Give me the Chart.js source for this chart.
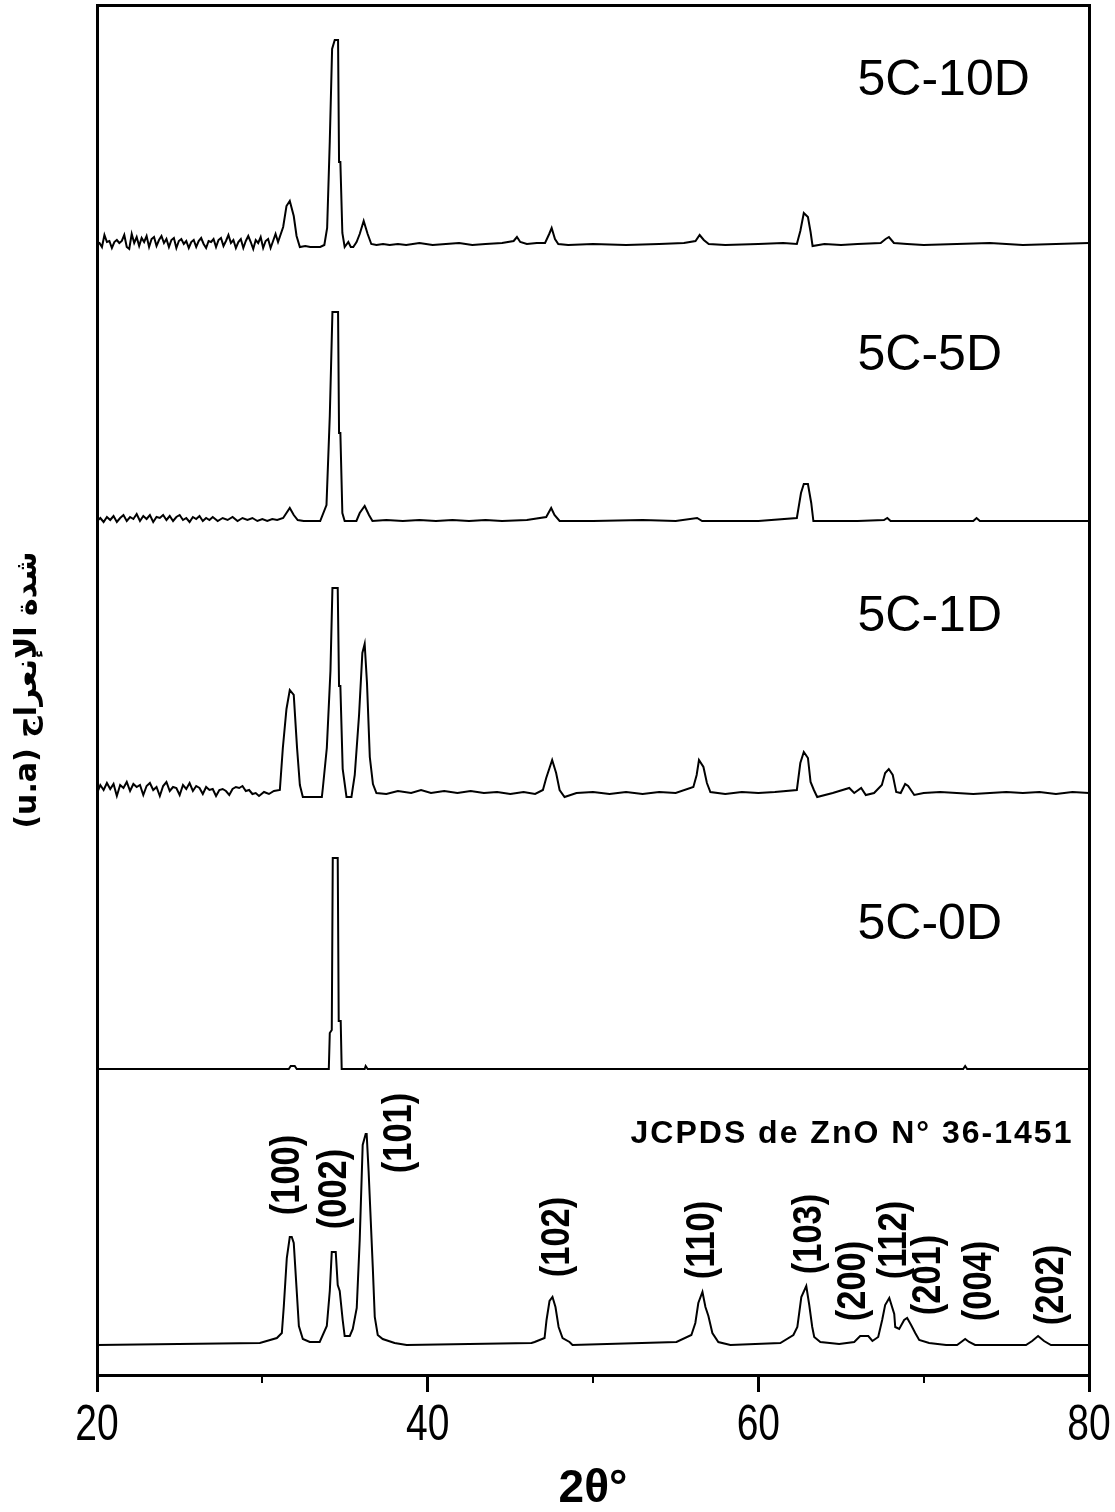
<!DOCTYPE html>
<html>
<head>
<meta charset="utf-8">
<script src="https://cdn.jsdelivr.net/npm/chart.js@4/dist/chart.umd.min.js"></script>
<style>
  html, body { margin: 0; padding: 0; background: #fff; }
  #wrap { width: 1115px; height: 1512px; position: relative; }
</style>
</head>
<body>
<div id="wrap"><canvas id="xrdChart"></canvas></div>
<script>
// 2-theta range and tick labels
const X_MIN = 20;
const X_MAX = 80;
const X_TICKS = [20, 40, 60, 80];
const X_MINOR = [30, 50, 70];

// Series names, bottom to top, and baseline offset of each trace (u.a)
const SERIES_NAMES = ["JCPDS", "5C-0D", "5C-1D", "5C-5D", "5C-10D"];
const SERIES_OFFSETS = [3.0, 30.6, 58.2, 85.4, 113.1];

// [2theta, intensity above own baseline]
const jcpds = [
  [20.0, 0], [29.85, 0.2], [30.88, 0.7], [31.18, 1.2], [31.3, 3.9], [31.48, 8.7], [31.66, 10.8],
  [31.78, 10.8], [31.9, 10.2], [32.08, 5.4], [32.21, 1.9], [32.45, 0.6], [32.87, 0.3], [33.47, 0.3],
  [33.9, 1.9], [34.08, 5.4], [34.2, 9.3], [34.44, 9.3], [34.56, 6.0], [34.68, 5.4], [34.86, 2.5],
  [34.98, 0.9], [35.29, 0.9], [35.47, 1.6], [35.71, 3.7], [35.89, 10.5], [36.07, 20.0], [36.25, 21.1],
  [36.31, 21.1], [36.43, 17.3], [36.68, 7.8], [36.8, 2.8], [36.98, 1.0], [37.28, 0.6], [38.0, 0.2],
  [38.73, 0], [46.28, 0.2], [46.47, 0.3], [47.07, 0.7], [47.19, 2.5], [47.37, 4.4], [47.55, 4.8],
  [47.73, 3.8], [47.92, 1.8], [48.16, 0.7], [48.58, 0.3], [48.76, 0], [55.05, 0.3], [55.95, 1.0],
  [56.19, 2.2], [56.37, 4.2], [56.62, 5.3], [56.8, 3.8], [56.98, 2.9], [57.22, 1.2], [57.58, 0.3],
  [58.31, 0], [61.33, 0.2], [62.12, 1.0], [62.36, 1.8], [62.6, 4.8], [62.9, 5.9], [63.08, 4.0],
  [63.26, 1.8], [63.38, 0.8], [63.75, 0.3], [64.89, 0.1], [65.8, 0.3], [66.16, 0.9], [66.65, 0.9],
  [66.9, 0.4], [67.25, 0.8], [67.49, 2.5], [67.67, 4.0], [67.92, 4.7], [68.22, 3.1], [68.28, 1.8],
  [68.52, 1.6], [68.82, 2.5], [69.0, 2.7], [69.24, 2.0], [69.49, 1.2], [69.73, 0.5], [70.33, 0.2],
  [71.36, 0], [72.02, 0], [72.27, 0.3], [72.51, 0.6], [72.75, 0.3], [73.11, 0], [76.19, 0],
  [76.56, 0.4], [76.92, 0.9], [77.28, 0.4], [77.7, 0], [80.0, 0]
];

const s0D = [
  [20.0, 0], [31.6, 0], [31.72, 0.3], [31.96, 0.3], [32.08, 0], [34.02, 0], [34.08, 3.6],
  [34.2, 3.9], [34.26, 21.1], [34.56, 21.1], [34.62, 4.8], [34.74, 4.8], [34.8, 0], [36.19, 0],
  [36.25, 0.3], [36.37, 0], [72.39, 0], [72.51, 0.3], [72.63, 0], [80.0, 0]
];

const s1D = [
  [20.0, 0.0], [20.2, 0.8], [20.4, 0.3], [20.6, 1.0], [20.8, 0.4], [21.0, 0.9], [21.2, -0.3],
  [21.4, 0.8], [21.6, 0.5], [21.8, 1.1], [22.0, 0.2], [22.2, 0.9], [22.4, 0.6], [22.6, 0.8],
  [22.8, -0.2], [23.0, 0.7], [23.2, 1.0], [23.4, 0.3], [23.6, 0.6], [23.8, -0.3], [24.0, 0.7],
  [24.2, 1.1], [24.4, 0.2], [24.6, 0.6], [24.8, 0.5], [25.0, -0.2], [25.2, 0.8], [25.4, 0.4],
  [25.6, 1.0], [25.8, 0.2], [26.0, 0.7], [26.2, 0.5], [26.4, -0.1], [26.6, 0.6], [26.8, 0.3],
  [27.0, 0.4], [27.2, -0.3], [27.4, 0.3], [27.6, 0.4], [27.8, 0.2], [28.0, -0.2], [28.2, 0.4],
  [28.4, 0.6], [28.6, 0.5], [28.8, 0.7], [29.0, 0.2], [29.2, 0.3], [29.4, -0.1], [29.6, 0.0],
  [29.8, -0.3], [30.1, 0.1], [30.4, -0.1], [30.7, 0.2], [31.06, 0.3], [31.24, 4.5], [31.46, 8.4],
  [31.66, 10.3], [31.9, 9.8], [32.1, 4.5],
  [32.27, 0.8], [32.45, -0.4], [33.0, -0.4], [33.6, -0.4], [33.66, 0.5], [33.9, 4.5], [34.12, 12.2],
  [34.24, 20.5], [34.56, 20.5], [34.64, 10.7], [34.72, 10.7], [34.86, 2.4], [35.09, -0.4],
  [35.39, -0.4], [35.59, 1.8], [35.85, 7.8], [36.05, 14.0], [36.19, 14.9], [36.33, 11.0],
  [36.5, 3.6], [36.69, 0.9], [36.9, 0.0], [37.5, -0.1], [38.2, 0.2], [39.0, 0.0], [39.6, 0.3],
  [40.2, 0.0], [41.0, 0.2], [41.8, 0.0], [42.6, 0.2], [43.4, 0.0], [44.2, 0.1], [45.0, -0.1],
  [45.8, 0.1], [46.5, -0.1], [46.97, 0.3], [47.17, 1.5], [47.53, 3.3], [47.77, 2.0], [47.98, 0.3],
  [48.28, -0.4], [49.0, 0.0], [50.0, 0.1], [51.0, -0.1], [52.0, 0.1], [53.0, -0.1], [54.0, 0.1],
  [55.0, 0.0], [56.07, 0.6], [56.27, 1.8], [56.41, 3.3], [56.68, 2.6], [56.89, 1.0], [57.1, 0.1],
  [58.0, -0.1], [59.0, 0.1], [60.0, 0.0], [61.0, 0.1], [62.33, 0.3], [62.54, 3.0], [62.75, 4.1],
  [63.0, 3.5], [63.16, 1.1], [63.36, 0.3], [63.56, -0.4], [64.5, 0.0], [65.5, 0.5], [65.8, 0.0],
  [66.22, 0.5], [66.5, -0.2], [67.0, 0.0], [67.47, 0.8], [67.67, 2.0], [67.89, 2.4], [68.13, 1.8],
  [68.34, 0.1], [68.61, 0.0], [68.88, 0.9], [69.06, 0.7], [69.43, -0.2], [70.0, 0.0], [71.0, 0.1],
  [72.0, 0.0], [73.0, -0.1], [74.0, 0.0], [75.0, 0.1], [76.0, 0.0], [77.0, 0.1], [78.0, -0.1],
  [79.0, 0.1], [80.0, 0.0]
];

const s5D = [
  [20.0, 0.0], [20.2, 0.3], [20.4, -0.1], [20.6, 0.4], [20.8, 0.1], [21.0, 0.5], [21.2, -0.1],
  [21.4, 0.3], [21.6, 0.6], [21.8, 0.0], [22.0, 0.4], [22.2, 0.2], [22.4, 0.7], [22.6, 0.0],
  [22.8, 0.5], [23.0, 0.2], [23.2, 0.6], [23.4, -0.1], [23.6, 0.4], [23.8, 0.3], [24.0, 0.6],
  [24.2, 0.1], [24.4, 0.5], [24.6, 0.0], [24.8, 0.4], [25.0, 0.6], [25.2, 0.1], [25.4, 0.3],
  [25.6, -0.1], [25.8, 0.4], [26.0, 0.2], [26.2, 0.5], [26.4, 0.0], [26.6, 0.3], [26.8, 0.1],
  [27.0, 0.4], [27.3, 0.0], [27.6, 0.3], [27.9, 0.1], [28.2, 0.4], [28.5, 0.0], [28.8, 0.3],
  [29.1, 0.1], [29.4, 0.3], [29.7, 0.0], [30.0, 0.2], [30.3, 0.0], [30.6, 0.2], [30.9, 0.1],
  [31.26, 0.3], [31.66, 1.3], [31.9, 0.6], [32.14, 0.1], [32.5, 0.0], [33.5, 0.0], [33.88, 1.6],
  [34.08, 10.5], [34.24, 20.9], [34.58, 20.9], [34.64, 8.8], [34.72, 8.8], [34.84, 0.8],
  [34.98, 0.0], [35.69, 0.0], [35.89, 0.8], [36.19, 1.5], [36.45, 0.6], [36.66, 0.0], [37.5, 0.1],
  [38.5, 0.0], [39.5, 0.1], [40.5, 0.0], [41.5, 0.1], [42.5, 0.0], [43.5, 0.1], [44.5, 0.0],
  [46.0, 0.1], [47.17, 0.4], [47.47, 1.3], [47.67, 0.6], [47.98, 0.0], [50.0, 0.0], [53.0, 0.1],
  [55.0, 0.0], [56.3, 0.3], [56.6, 0.0], [60.0, 0.0], [62.33, 0.3], [62.58, 2.8], [62.75, 3.7],
  [63.0, 3.7], [63.2, 1.8], [63.33, 0.0], [66.0, 0.0], [67.6, 0.1], [67.8, 0.3], [68.0, 0.0],
  [73.0, 0.0], [73.2, 0.3], [73.4, 0.0], [80.0, 0.0]
];

const s10D = [
  [20.0, 0.0], [20.15, 0.1], [20.3, -0.3], [20.45, 0.9], [20.6, 0.2], [20.75, 0.3], [20.9, -0.4],
  [21.05, 0.2], [21.2, 0.4], [21.35, 0.1], [21.5, 0.3], [21.65, 0.9], [21.8, -0.3], [21.95, -0.5],
  [22.1, 1.0], [22.25, 0.1], [22.4, 0.7], [22.55, -0.2], [22.7, 0.6], [22.85, 0.2], [23.0, 0.8],
  [23.15, -0.3], [23.3, 0.5], [23.45, 0.7], [23.6, -0.2], [23.75, 0.4], [23.9, 0.8], [24.05, 0.1],
  [24.2, 0.5], [24.35, -0.3], [24.5, 0.4], [24.65, 0.6], [24.8, -0.4], [24.95, 0.3], [25.1, 0.5],
  [25.25, 0.0], [25.4, 0.3], [25.55, -0.4], [25.7, 0.2], [25.85, 0.4], [26.0, -0.3], [26.15, 0.3],
  [26.3, 0.6], [26.45, 0.0], [26.6, -0.4], [26.75, 0.3], [26.9, 0.2], [27.05, 0.5], [27.2, -0.3],
  [27.35, 0.4], [27.5, 0.6], [27.65, -0.2], [27.8, 0.3], [27.95, 0.9], [28.1, 0.1], [28.25, 0.4],
  [28.4, -0.4], [28.55, 0.2], [28.7, 0.5], [28.85, -0.4], [29.0, 0.3], [29.15, 0.8], [29.3, 0.2],
  [29.45, -0.5], [29.6, 0.4], [29.75, 0.1], [29.9, 0.7], [30.05, -0.4], [30.2, 0.3], [30.35, 0.5],
  [30.5, -0.4], [30.65, 0.3], [30.8, 1.0], [30.95, 0.2], [31.26, 1.7], [31.46, 3.8], [31.66, 4.3],
  [31.9, 2.8], [32.07, 0.8], [32.27, -0.3], [32.6, -0.2], [32.9, -0.3], [33.2, -0.3], [33.5, -0.3],
  [33.75, -0.1], [33.92, 1.6], [34.08, 10.3], [34.22, 19.5], [34.38, 20.4], [34.58, 20.4],
  [34.64, 8.2], [34.72, 8.2], [34.84, 1.1], [34.98, -0.3], [35.2, 0.2], [35.35, -0.3], [35.5, -0.3],
  [35.7, 0.2], [35.89, 1.0], [36.13, 2.3], [36.37, 1.0], [36.59, 0.0], [36.9, -0.1], [37.3, 0.0],
  [37.7, -0.1], [38.2, 0.0], [38.7, -0.1], [39.5, 0.1], [40.3, -0.1], [41.1, 0.0], [41.9, 0.1],
  [42.7, -0.1], [43.5, 0.0], [44.5, 0.1], [45.2, 0.3], [45.4, 0.7], [45.6, 0.2], [46.0, 0.0],
  [46.6, 0.1], [47.1, 0.1], [47.35, 1.0], [47.5, 1.6], [47.7, 0.5], [47.9, 0.0], [48.5, -0.1],
  [50.0, 0.0], [52.0, -0.1], [54.0, 0.0], [55.5, 0.1], [56.2, 0.3], [56.45, 0.9], [56.7, 0.4],
  [57.0, 0.0], [58.0, -0.1], [60.0, 0.0], [61.5, 0.1], [62.33, 0.0], [62.54, 1.3], [62.75, 3.1],
  [63.0, 2.7], [63.16, 1.2], [63.28, -0.2], [64.0, 0.0], [65.0, -0.1], [66.0, 0.0], [67.4, 0.1],
  [67.7, 0.5], [67.9, 0.7], [68.2, 0.1], [69.0, 0.0], [70.0, -0.1], [72.0, 0.0], [74.0, 0.1],
  [76.0, -0.1], [78.0, 0.0], [80.0, 0.1]
];

const SERIES_DATA = [jcpds, s0D, s1D, s5D, s10D];

// Sample names written inside each panel: [2theta of left edge, u.a of text middle]
const SAMPLE_LABELS = ["5C-10D", "5C-5D", "5C-1D", "5C-0D"];
const SAMPLE_LABEL_AT = [[66.0, 129.4], [66.0, 101.9], [66.0, 75.8], [66.0, 45.0]];

// Miller indices of the reference pattern, with [2theta, u.a] of the label centre
const HKL_LABELS = ["(100)", "(002)", "(101)", "(102)", "(110)", "(103)", "(200)", "(112)", "(201)", "(004)", "(202)"];
const HKL_AT = [
  [31.54, 20.0], [34.38, 18.6], [38.31, 24.2], [47.86, 13.8], [56.68, 13.5], [63.14, 14.1],
  [65.8, 9.4], [68.28, 13.5], [70.33, 10.0], [73.41, 9.4], [77.76, 9.0]
];
const REF_TITLE = "JCPDS de ZnO N° 36-1451";
const REF_TITLE_AT = [52.27, 24.1];

const FONT = "'Liberation Sans', Arial, sans-serif";

const annotations = {
  id: "annotations",
  afterDatasetsDraw(chart) {
    const { ctx } = chart;
    const x = chart.scales.x;
    const y = chart.scales.y;
    ctx.save();
    ctx.fillStyle = "#000";

    ctx.font = "50px " + FONT;
    ctx.textAlign = "left";
    ctx.textBaseline = "middle";
    SAMPLE_LABELS.forEach((label, i) => {
      const [lx, ly] = SAMPLE_LABEL_AT[i];
      ctx.fillText(label, x.getPixelForValue(lx), y.getPixelForValue(ly));
    });

    ctx.font = "bold 32px " + FONT;
    ctx.letterSpacing = "2px";
    ctx.fillText(REF_TITLE, x.getPixelForValue(REF_TITLE_AT[0]), y.getPixelForValue(REF_TITLE_AT[1]));
    ctx.letterSpacing = "0px";

    ctx.font = "bold 40px " + FONT;
    ctx.textAlign = "center";
    HKL_LABELS.forEach((label, i) => {
      const [hx, hy] = HKL_AT[i];
      ctx.save();
      ctx.translate(x.getPixelForValue(hx), y.getPixelForValue(hy));
      ctx.rotate(-Math.PI / 2);
      ctx.scale(0.86, 1);
      ctx.fillText(label, 0, 0);
      ctx.restore();
    });
    ctx.restore();
  },
  afterDraw(chart) {
    const { ctx } = chart;
    const x = chart.scales.x;
    ctx.save();
    // minor ticks on the 2theta axis
    ctx.strokeStyle = "#000";
    ctx.lineWidth = 2;
    X_MINOR.forEach((v) => {
      const px = Math.round(x.getPixelForValue(v));
      ctx.beginPath();
      ctx.moveTo(px, x.top);
      ctx.lineTo(px, x.top + 8);
      ctx.stroke();
    });
    // condensed tick labels, as in the original figure
    ctx.fillStyle = "#000";
    ctx.font = "50px " + FONT;
    ctx.textAlign = "center";
    ctx.textBaseline = "alphabetic";
    x.ticks.forEach((t) => {
      if (!X_TICKS.includes(t.value)) return;
      ctx.save();
      ctx.translate(x.getPixelForValue(t.value), x.top + 65);
      ctx.scale(0.78, 1);
      ctx.fillText(String(t.value), 0, 0);
      ctx.restore();
    });
    ctx.restore();
  },
};

const datasets = SERIES_DATA.map((points, i) => ({
  label: SERIES_NAMES[i],
  data: points.map(([tt, inten]) => ({ x: tt, y: inten + SERIES_OFFSETS[i] })),
  borderColor: "#000",
  borderWidth: 2,
  pointRadius: 0,
  tension: 0,
  fill: false,
}));

const frameAxis = (position, size) => ({
  type: "linear",
  position,
  min: position === "top" ? X_MIN : 0,
  max: position === "top" ? X_MAX : 137,
  ticks: { display: false },
  grid: { drawOnChartArea: false, drawTicks: false },
  border: { color: "#000", width: 3 },
  afterFit: (s) => {
    if (position === "top") s.height = size;
    else s.width = size;
  },
});

new Chart(document.getElementById("xrdChart").getContext("2d"), {
  type: "line",
  data: { datasets },
  options: {
    responsive: true,
    maintainAspectRatio: false,
    animation: false,
    layout: { padding: 0 },
    plugins: { legend: { display: false }, tooltip: { enabled: false } },
    scales: {
      x: {
        type: "linear",
        position: "bottom",
        min: X_MIN,
        max: X_MAX,
        ticks: { display: false, stepSize: 10, autoSkip: false },
        grid: {
          drawOnChartArea: false,
          tickLength: 17,
          lineWidth: 3,
          tickColor: (c) => (c.tick && X_TICKS.includes(c.tick.value) ? "#000" : "rgba(0,0,0,0)"),
        },
        border: { color: "#000", width: 3 },
        title: {
          display: true,
          text: "2θ°",
          color: "#000",
          font: { family: FONT, size: 46, weight: "bold", lineHeight: 1.0 },
          padding: { top: 0, bottom: 0 },
        },
        afterFit: (s) => { s.height = 137; },
      },
      xTop: frameAxis("top", 5),
      y: {
        type: "linear",
        position: "left",
        min: 0,
        max: 137,
        ticks: { display: false },
        grid: { drawOnChartArea: false, drawTicks: false },
        border: { color: "#000", width: 3 },
        title: {
          display: true,
          text: "(u.a) شدة الإنعراج",
          color: "#000",
          font: { family: "'DejaVu Sans', sans-serif", size: 30, weight: "bold", lineHeight: 1.2 },
          padding: { top: 10, bottom: 0 },
        },
        afterFit: (s) => { s.width = 97; },
      },
      yRight: frameAxis("right", 26),
    },
  },
  plugins: [annotations],
});
</script>
</body>
</html>
